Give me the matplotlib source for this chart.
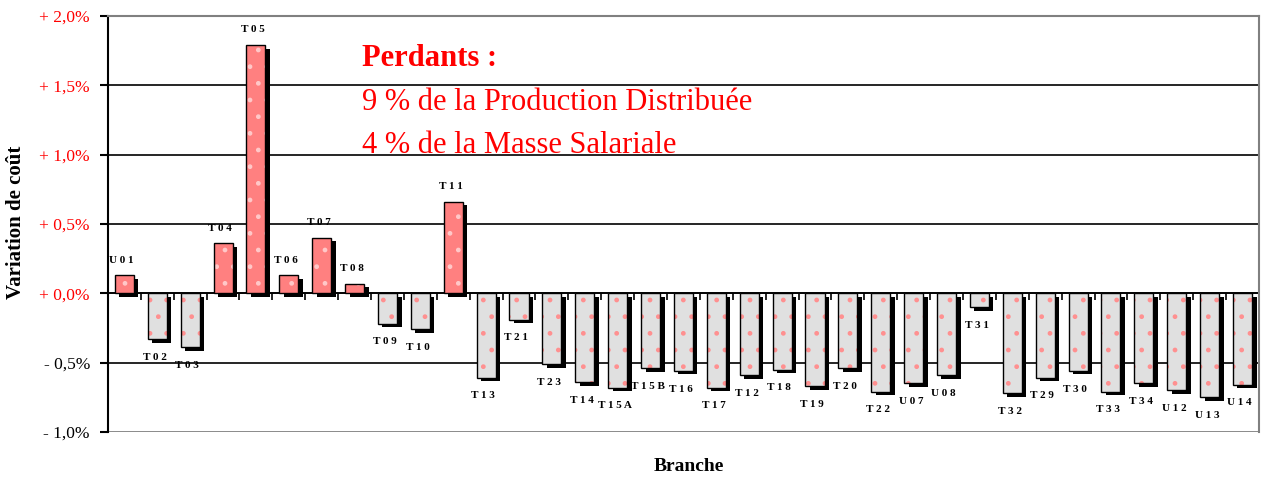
import numpy as np
import matplotlib
matplotlib.use("Agg")
import matplotlib.pyplot as plt
from matplotlib.transforms import offset_copy

branches = ["U01", "T02", "T03", "T04", "T05", "T06", "T07", "T08", "T09", "T10",
            "T11", "T13", "T21", "T23", "T14", "T15A", "T15B", "T16", "T17", "T12",
            "T18", "T19", "T20", "T22", "U07", "U08", "T31", "T32", "T29", "T30",
            "T33", "T34", "U12", "U13", "U14"]
variation = [0.13, -0.33, -0.39, 0.36, 1.79, 0.13, 0.40, 0.07, -0.22, -0.26,
             0.66, -0.61, -0.19, -0.51, -0.64, -0.68, -0.54, -0.56, -0.68, -0.59,
             -0.55, -0.67, -0.54, -0.71, -0.65, -0.59, -0.10, -0.72, -0.61, -0.56,
             -0.71, -0.65, -0.70, -0.75, -0.66]
yticks = [-1.0, -0.5, 0.0, 0.5, 1.0, 1.5, 2.0]
note_title = "Perdants :"
note_lines = ["9 % de la Production Distribuée", "4 % de la Masse Salariale"]

serif = ["Liberation Serif", "DejaVu Serif"]
red = "#FF0000"

fig = plt.figure(figsize=(12.64, 4.79), dpi=100)
ax = fig.add_axes([0.0854, 0.0981, 0.9106, 0.8685])

x = np.arange(len(branches))
vals = np.array(variation)
pos = vals >= 0
face = np.where(pos, "#FF8080", "#E0E0E0")
dots = np.where(pos, "#FFC8C8", "#FF9090")

# drop shadow: same bars shifted a few pixels right and down
shift = offset_copy(ax.transData, fig=fig, x=4.5, y=-3.5, units="dots")
ax.bar(x, vals, width=0.58, color="black", linewidth=0, transform=shift, zorder=2.5)

for xi, v, fc, dc in zip(x, vals, face, dots):
    ax.bar(xi, v, width=0.58, color=fc, edgecolor=dc, hatch=".", linewidth=0,
           zorder=3)
ax.bar(x, vals, width=0.58, fill=False, edgecolor="black", linewidth=1.0, zorder=4)

for xi, v, name in zip(x, vals, branches):
    off = 11 if v >= 0 else -13
    ax.annotate(" ".join(name), (xi, v), xytext=(-2, off), textcoords="offset points",
                ha="center", va="center", fontsize=8, fontweight="bold",
                family=serif, zorder=5)

ax.set_xlim(-0.5, len(branches) - 0.5)
ax.set_ylim(-1.0, 2.0)

# grid and frame
for y in yticks[1:-1]:
    ax.axhline(y, color="black", linewidth=1.2, zorder=1)
ax.axhline(-1.0, color="#808080", linewidth=2, zorder=1)
for s in ["top", "right"]:
    ax.spines[s].set_color("#808080")
    ax.spines[s].set_linewidth(1.5)
ax.spines["left"].set_linewidth(1.5)
ax.spines["bottom"].set_position(("data", 0))
ax.spines["bottom"].set_linewidth(1.2)
ax.spines["bottom"].set_zorder(2)

ax.set_xticks(x[:-1] + 0.5)
ax.set_xticklabels([])
ax.tick_params(axis="x", direction="out", length=5, width=1.2, color="black")

ax.set_yticks(yticks)
labels = []
for t in yticks:
    sign = "+" if t >= 0 else "-"
    labels.append(f"{sign} {abs(t):.1f}%".replace(".", ","))
ax.set_yticklabels(labels, family=serif, fontsize=12.5)
for lab, t in zip(ax.get_yticklabels(), yticks):
    lab.set_color(red if t >= 0 else "black")
ax.tick_params(axis="y", direction="out", length=6, width=1.5, pad=7)

ax.set_ylabel("Variation de coût", family=serif, fontsize=15, fontweight="bold",
              va="center")
ax.yaxis.set_label_coords(-0.08, 0.505)
ax.set_xlabel("Branche", family=serif, fontsize=14, fontweight="bold", va="center")
ax.xaxis.set_label_coords(0.505, -0.084)

ax.text(0.2207, 0.899, note_title, transform=ax.transAxes, color=red, fontsize=22,
        fontweight="bold", family=serif, va="center")
for i, line in enumerate(note_lines):
    ax.text(0.2207, 0.793 - i * 0.104, line, transform=ax.transAxes, color=red,
            fontsize=22, family=serif, va="center")

fig.savefig("out.png", dpi=100)
